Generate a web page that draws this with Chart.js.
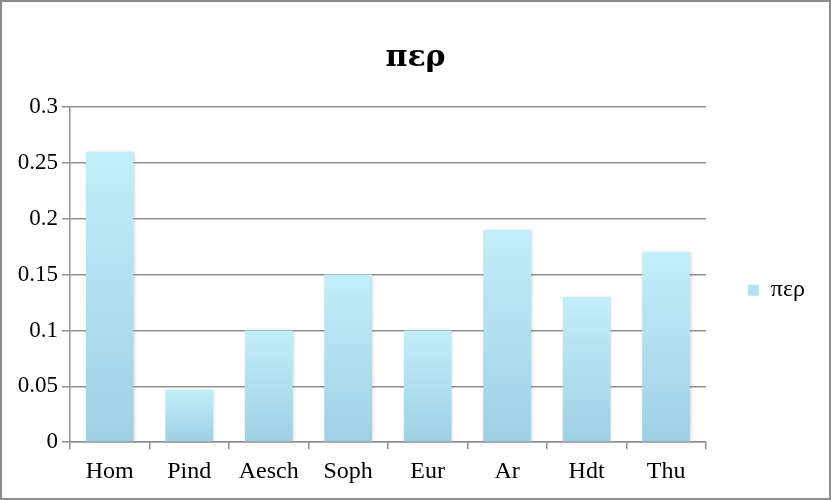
<!DOCTYPE html>
<html>
<head>
<meta charset="utf-8">
<script src="https://cdn.jsdelivr.net/npm/chart.js@4"></script>
<style>
  html, body { margin: 0; padding: 0; background: #fff; }
  #wrap { width: 831px; height: 500px; box-sizing: border-box; border: 2px solid #8c8c8c; }
  #wrap canvas { display: block; }
</style>
</head>
<body>
<div id="wrap"><canvas id="chart" width="827" height="496"></canvas></div>
<script>
// 資料
const categories = ['Hom', 'Pind', 'Aesch', 'Soph', 'Eur', 'Ar', 'Hdt', 'Thu'];
const perValues = [0.26, 0.047, 0.1, 0.15, 0.1, 0.19, 0.13, 0.17];
const seriesName = 'περ';
const chartTitle = 'περ';

const FONT = "'Liberation Serif', 'DejaVu Serif', serif";
const GRID = '#8f8f8f';

// 每根柱子由上到下的漸層
function barGradient(context) {
  const chart = context.chart;
  const yScale = chart.scales.y;
  if (!chart.chartArea || !yScale || context.raw == null) return '#b0dff0';
  const top = yScale.getPixelForValue(context.raw);
  const bottom = yScale.getPixelForValue(0);
  if (!isFinite(top) || !isFinite(bottom) || top === bottom) return '#b0dff0';
  const g = chart.ctx.createLinearGradient(0, top, 0, bottom);
  g.addColorStop(0, '#c3eefb');
  g.addColorStop(1, '#9ed0e4');
  return g;
}

// 柱子的淡陰影
const softShadow = {
  id: 'softShadow',
  beforeDatasetsDraw(chart) {
    const ctx = chart.ctx;
    ctx.save();
    ctx.shadowColor = 'rgba(0, 0, 0, 0.18)';
    ctx.shadowBlur = 3;
    ctx.shadowOffsetX = 1;
    ctx.shadowOffsetY = 0;
  },
  afterDatasetsDraw(chart) {
    chart.ctx.restore();
  }
};

new Chart(document.getElementById('chart'), {
  type: 'bar',
  data: {
    labels: categories,
    datasets: [{
      label: seriesName,
      data: perValues,
      backgroundColor: barGradient,
      borderWidth: 0,
      categoryPercentage: 1,
      barPercentage: 0.6
    }]
  },
  plugins: [softShadow],
  options: {
    responsive: false,
    animation: false,
    layout: { padding: { left: 14, right: 14, top: 10, bottom: 4 } },
    plugins: {
      title: {
        display: true,
        text: chartTitle,
        color: '#000',
        font: { family: "'DejaVu Serif', serif", size: 30, weight: 'bold' },
        padding: { top: 28, bottom: 31 }
      },
      legend: {
        position: 'right',
        title: { display: true, text: '', padding: { top: 0, bottom: 60 } },
        labels: {
          color: '#000',
          boxWidth: 11,
          boxHeight: 11,
          padding: 42,
          font: { family: FONT, size: 24 },
          generateLabels: chart => [{
            text: seriesName,
            fontColor: '#000',
            fillStyle: '#b3e2f2',
            strokeStyle: '#b3e2f2',
            lineWidth: 0,
            datasetIndex: 0
          }]
        }
      },
      tooltip: { enabled: false }
    },
    scales: {
      y: {
        min: 0,
        max: 0.3,
        afterFit: scale => { scale.width = 54; },
        ticks: {
          stepSize: 0.05,
          color: '#000',
          padding: 4,
          font: { family: FONT, size: 23 },
          callback: v => String(Math.round(v * 100) / 100)
        },
        grid: { color: GRID, lineWidth: 1.5, tickLength: 8 },
        border: { color: GRID, width: 1.5 }
      },
      x: {
        ticks: {
          color: '#000',
          padding: 8,
          font: { family: FONT, size: 24 }
        },
        grid: { display: true, drawOnChartArea: false, color: GRID, lineWidth: 1.5, tickLength: 7 },
        border: { color: GRID, width: 1.5 }
      }
    }
  }
});
</script>
</body>
</html>
